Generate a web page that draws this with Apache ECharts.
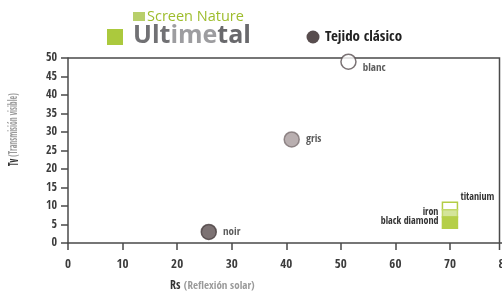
<!DOCTYPE html>
<html>
<head>
<meta charset="utf-8">
<script src="https://cdn.jsdelivr.net/npm/echarts@6/dist/echarts.min.js"></script>
<style>
  html, body { margin: 0; padding: 0; background: #fff; }
  #chart { width: 502px; height: 295px; }
</style>
</head>
<body>
<div id="chart"></div>
<script>
// Tejido clásico (puntos)
var tejidoNames = ['blanc', 'gris', 'noir'];
var tejidoRs = [51.4, 41, 25.8];
var tejidoTv = [49, 28, 3];

// Screen Nature Ultimetal (rangos de Tv a Rs = 70)
var ultiNames = ['titanium', 'iron', 'black diamond'];
var ultiRs = [70, 70, 70];
var ultiTvLow = [9, 7, 4];
var ultiTvHigh = [11, 9, 7];

var xTicks = { min: 0, max: 80, interval: 10 };
var yTicks = { min: 0, max: 50, interval: 5 };

var condFont = '"Open Sans Condensed", "Roboto Condensed", "DejaVu Sans Condensed", sans-serif';
var logoFont = '"Open Sans", "Noto Sans", sans-serif';

// estilos por punto
var tejidoStyle = {
  blanc: { color: '#ffffff', borderColor: '#5a5052' },
  gris: { color: '#a89b9c', borderColor: '#7c7072' },
  noir: { color: '#5b4f50', borderColor: '#4a4041' }
};
var ultiStyle = {
  'titanium': { fill: '#ffffff', stroke: '#b3cd45', labelSide: 'topright' },
  'iron': { fill: '#d4e59a', stroke: '#c2d86a', labelSide: 'left' },
  'black diamond': { fill: '#b5cf48', stroke: '#b5cf48', labelSide: 'left' }
};

var chart = echarts.init(document.getElementById('chart'));

var pointData = [];
for (var i = 0; i < tejidoNames.length; i++) {
  var st = tejidoStyle[tejidoNames[i]];
  pointData.push({
    name: tejidoNames[i],
    value: [tejidoRs[i], tejidoTv[i]],
    itemStyle: { color: st.color, borderColor: st.borderColor, borderWidth: 1.5 },
    label: tejidoNames[i] === 'blanc' ? { offset: [0, 6] } : {}
  });
}

var rectData = [];
for (var j = 0; j < ultiNames.length; j++) {
  rectData.push({ name: ultiNames[j], value: [ultiRs[j], ultiTvLow[j], ultiTvHigh[j]] });
}

var option = {
  animation: false,
  grid: {
    left: 68, right: -2.5, top: 58, bottom: 52,
    outerBoundsMode: 'none',
    containLabel: false
  },
  xAxis: {
    type: 'value',
    min: xTicks.min, max: xTicks.max, interval: xTicks.interval,
    splitLine: { show: false },
    axisLine: { lineStyle: { color: '#4a4a4a', width: 1.5 } },
    axisTick: { show: true, length: 7, lineStyle: { color: '#4a4a4a', width: 1.5 } },
    axisLabel: {
      color: '#3c3c3c', fontFamily: condFont, fontWeight: 'bold', fontSize: 13, margin: 15
    }
  },
  yAxis: {
    type: 'value',
    min: yTicks.min, max: yTicks.max, interval: yTicks.interval,
    splitLine: { show: false },
    axisLine: { lineStyle: { color: '#4a4a4a', width: 1.5 } },
    axisTick: { show: true, length: 7, lineStyle: { color: '#4a4a4a', width: 1.5 } },
    axisLabel: { color: '#3c3c3c', fontFamily: condFont, fontWeight: 'bold', fontSize: 12, margin: 11 }
  },
  series: [
    {
      name: 'Tejido clásico',
      type: 'scatter',
      symbol: 'circle',
      symbolSize: 15,
      data: pointData,
      label: {
        show: true,
        position: 'right',
        distance: 6,
        formatter: '{b}',
        color: '#333',
        fontFamily: condFont,
        fontWeight: 'bold',
        fontSize: 11
      },
      z: 5
    },
    {
      name: 'Ultimetal',
      type: 'custom',
      data: rectData,
      renderItem: function (params, api) {
        var name = ultiNames[params.dataIndex];
        var st = ultiStyle[name];
        var top = api.coord([api.value(0), api.value(2)]);
        var bot = api.coord([api.value(0), api.value(1)]);
        var w = 15;
        var x0 = top[0] - w / 2;
        var children = [{
          type: 'rect',
          shape: { x: x0, y: top[1], width: w, height: bot[1] - top[1] },
          style: { fill: st.fill, stroke: st.stroke, lineWidth: 1.5 }
        }];
        var txt = {
          type: 'text',
          style: {
            text: name, fill: '#333', font: 'bold 10px ' + condFont,
            verticalAlign: 'middle'
          }
        };
        if (st.labelSide === 'topright') {
          txt.x = x0 + w + 3; txt.y = top[1] - 5; txt.style.align = 'left';
        } else {
          txt.x = x0 - 4; txt.y = (top[1] + bot[1]) / 2 - 1; txt.style.align = 'right';
        }
        children.push(txt);
        return { type: 'group', children: children };
      },
      z: 4
    }
  ],
  graphic: [
    // marco superior y derecho del gráfico
    {
      type: 'polyline', z: 3,
      shape: { points: [[68, 58], [499.5, 58], [499.5, 250]] },
      style: { stroke: '#4a4a4a', lineWidth: 1.5, fill: null }
    },
    // logo Screen Nature Ultimetal
    { type: 'rect', left: 133, top: 12, shape: { width: 12, height: 9 }, style: { fill: '#b8cf6a' } },
    { type: 'text', left: 147, top: 9, style: { text: 'Screen Nature', fill: '#9ebd2d', font: '14.5px ' + logoFont } },
    { type: 'rect', left: 107, top: 29, shape: { width: 16, height: 16 }, style: { fill: '#abc93d' } },
    {
      type: 'text', left: 133, top: 23,
      style: {
        text: '{a|Ult}{b|ime}{c|tal}',
        rich: {
          a: { fontFamily: logoFont, fontWeight: 'bold', fontSize: 25, fill: '#717174' },
          b: { fontFamily: logoFont, fontWeight: 'bold', fontSize: 25, fill: '#9d9da0' },
          c: { fontFamily: logoFont, fontWeight: 'bold', fontSize: 25, fill: '#69696c' }
        }
      }
    },
    // leyenda Tejido clásico
    { type: 'circle', shape: { cx: 313, cy: 37, r: 6.5 }, style: { fill: '#584d4e' } },
    { type: 'text', left: 325, top: 30, style: { text: 'Tejido clásico', fill: '#222', font: 'bold 15px ' + condFont } },
    // títulos de ejes
    {
      type: 'text', x: 14, y: 166, rotation: Math.PI / 2, scaleX: 0.6,
      style: {
        text: '{b|Tv} {n|(Transmisión visible)}',
        verticalAlign: 'middle',
        rich: {
          b: { fontFamily: condFont, fontWeight: 'bold', fontSize: 14, fill: '#333' },
          n: { fontFamily: condFont, fontSize: 13, fill: '#9a9a9a' }
        }
      }
    },
    {
      type: 'text', left: 170, top: 280,
      style: {
        text: '{b|Rs} {n|(Reflexión solar)}',
        rich: {
          b: { fontFamily: condFont, fontWeight: 'bold', fontSize: 12, fill: '#333' },
          n: { fontFamily: condFont, fontSize: 11, fill: '#9a9a9a' }
        }
      }
    }
  ]
};
chart.setOption(option);
</script>
</body>
</html>
